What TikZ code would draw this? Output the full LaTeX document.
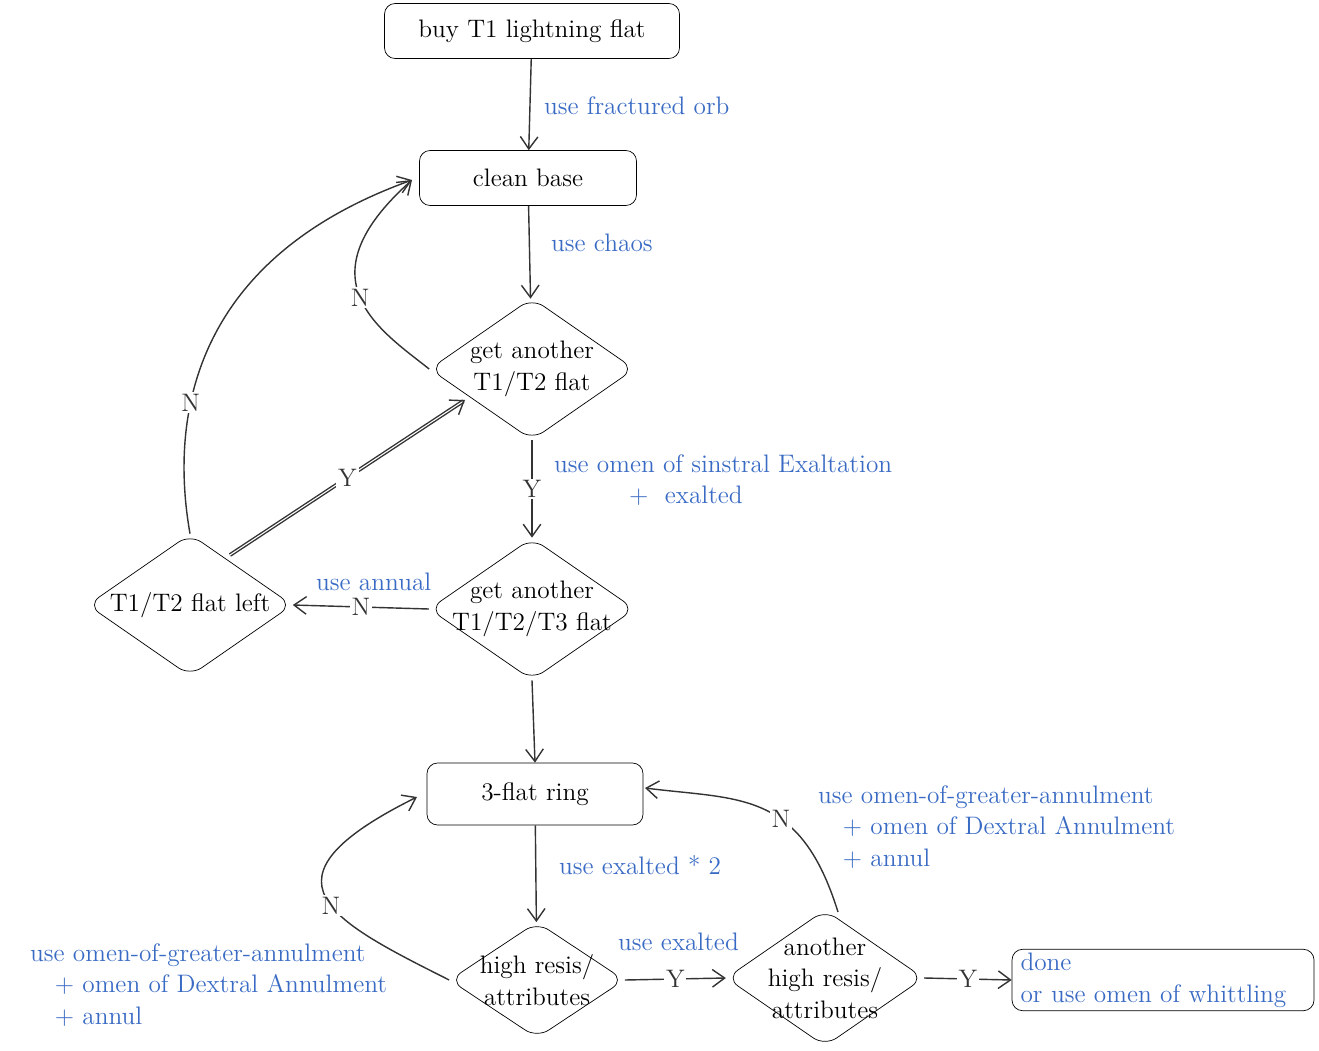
\documentclass[tikz,border=0pt]{standalone}
\usetikzlibrary{shapes.geometric,arrows.meta}
\definecolor{note}{HTML}{3A6BC4}
\begin{document}
\begin{tikzpicture}
[x=0.02cm,y=-0.02cm,
 every node/.style={font=\Large},
 box/.style={draw=black,rectangle,rounded corners=6pt,minimum height=1.1cm,inner sep=2pt},
 dec/.style={draw=black,diamond,aspect=1.45,rounded corners=8pt,minimum width=4.1cm,minimum height=2.84cm,inner sep=-4pt,align=center},
 lbl/.style={fill=white,inner sep=1pt},
 note/.style={text=note,align=left,anchor=west},
 link/.style={-{Straight Barb[length=7pt,width=10pt]},thick,black!80}]
\useasboundingbox (0,0) rectangle (1319,1051);
\node[box,minimum width=5.9cm] (buy)   at (532,31)  {buy T1 lightning flat};
\node[box,minimum width=4.34cm] (clean) at (528,178) {clean base};
\node[dec] (d1) at (532,369) {get another\\T1/T2 flat};
\node[dec] (d2) at (532,609) {get another\\T1/T2/T3 flat};
\node[dec] (d3) at (190,605) {T1/T2 flat left};
\node[box,minimum width=4.32cm,minimum height=1.24cm] (ring) at (535,794) {3-flat ring};
\node[dec,minimum width=3.5cm,minimum height=2.32cm] (d4) at (537,980) {high resis/\\attributes};
\node[dec,minimum width=3.54cm,minimum height=2.4cm] (d5) at (825,978) {another\\high resis/\\attributes};
\node[box,minimum width=6.04cm,minimum height=1.2cm,align=left,text width=5.7cm] (done) at (1163,980)
  {\textcolor{note}{done}\\\textcolor{note}{or use omen of whittling}};

\draw[link] (buy) -- (clean);
\node[note] (n1) at (538,106) {use fractured orb};
\draw[link] (clean) -- (d1);
\node[note] (n2) at (545,243) {use chaos};
\draw[link] (d1.west) .. controls (380,330) and (300,280) .. node[lbl,pos=0.5] {N} (412,180);
\draw[link] (d1.south) -- node[lbl] {Y} (d2.north);
\node[note] (n3) at (548,480) {use omen of sinstral Exaltation\\\hspace{1.5cm}+\ \ exalted};
\draw[link] (d2.west) -- node[lbl] {N} (d3.east);
\node[note] (n4) at (310,582) {use annual};
\draw[link] (d3.north) .. controls (170,420) and (190,260) .. node[lbl,pos=0.35] {N} (412,180);
\draw[link,double] (230,555) -- node[lbl] {Y} (465,400);
\draw[link] (d2.south) -- (ring.north);
\draw[link] (ring) -- (d4);
\node[note] (n5) at (553,865) {use exalted * 2};
\draw[link] (d4.west) .. controls (330,920) and (250,880) .. node[lbl,pos=0.45] {N} (417,797);
\node[note] (n6) at (24,985) {use omen-of-greater-annulment\\\ \ \ + omen of Dextral Annulment\\\ \ \ + annul};
\draw[link] (d4.east) -- node[lbl] {Y} (d5.west);
\node[note] (n7) at (612,942) {use exalted};
\draw[link] (838,912) .. controls (800,790) and (740,800) .. node[lbl,pos=0.4] {N} (645,788);
\node[note] (n8) at (812,827) {use omen-of-greater-annulment\\\ \ \ + omen of Dextral Annulment\\\ \ \ + annul};
\draw[link] (d5.east) -- node[lbl] {Y} (done.west);
\end{tikzpicture}
\end{document}
